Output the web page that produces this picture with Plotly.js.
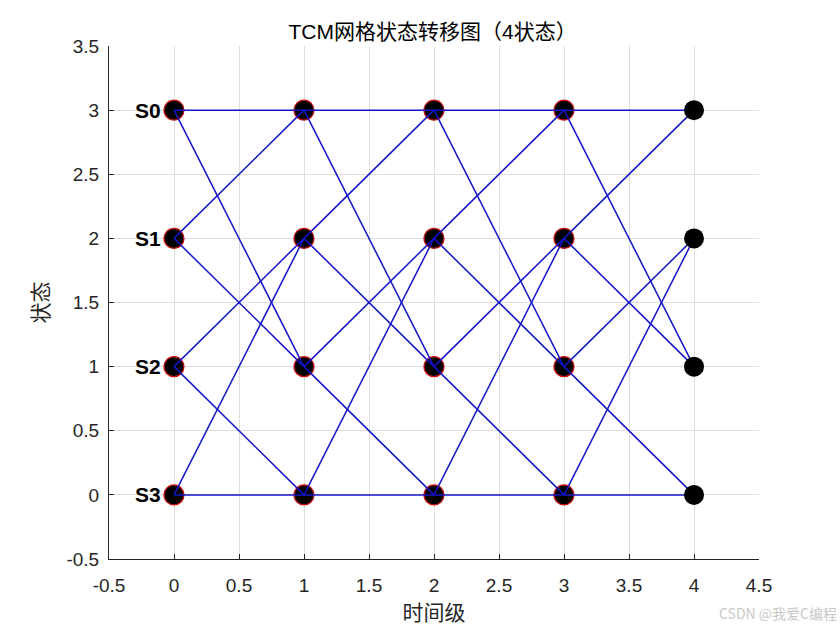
<!DOCTYPE html>
<html>
<head>
<meta charset="utf-8">
<script src="https://cdn.plot.ly/plotly-3.0.1.min.js"></script>
<style>html,body{margin:0;padding:0;background:#fff;}#chart{width:840px;height:630px;}</style>
</head>
<body>
<div id="chart"></div>
<script>
// Trellis data
const timeSteps = [0, 1, 2, 3, 4];
const stateValues = [3, 2, 1, 0];
const stateLabels = ['S0', 'S1', 'S2', 'S3'];
// next states reachable from each state value (key = state value)
const nextStates = {3: [3, 1], 2: [3, 1], 1: [2, 0], 0: [2, 0]};
const xTicks = [-0.5, 0, 0.5, 1, 1.5, 2, 2.5, 3, 3.5, 4, 4.5];
const yTicks = [-0.5, 0, 0.5, 1, 1.5, 2, 2.5, 3, 3.5];

const FONT = 'Liberation Sans, Arial, Noto Sans CJK SC, sans-serif';
const CJK = 'Noto Sans CJK SC, sans-serif';

// markers for t=0..3
const mx = [], my = [];
timeSteps.slice(0, -1).forEach(t => stateValues.forEach(s => { mx.push(t); my.push(s); }));
// final markers
const fx = [], fy = [];
const tLast = timeSteps[timeSteps.length - 1];
stateValues.forEach(s => { fx.push(tLast); fy.push(s); });

// edges
const ex = [], ey = [];
timeSteps.slice(0, -1).forEach(t => {
  stateValues.forEach(s => {
    nextStates[s].forEach(n => { ex.push(t, t + 1, null); ey.push(s, n, null); });
  });
});

const traces = [
  {x: mx, y: my, mode: 'markers', type: 'scatter', hoverinfo: 'skip',
   marker: {size: 20, color: '#000000', line: {color: '#d01010', width: 1.2}}},
  {x: ex, y: ey, mode: 'lines', type: 'scatter', hoverinfo: 'skip',
   line: {color: '#1414c8', width: 1.5}},
  {x: fx, y: fy, mode: 'markers', type: 'scatter', hoverinfo: 'skip',
   marker: {size: 20, color: '#000000', line: {color: '#000000', width: 0}}}
];

const annotations = stateValues.map((s, i) => ({
  x: -0.3, y: s, xref: 'x', yref: 'y', text: '<b>' + stateLabels[i] + '</b>',
  showarrow: false, xanchor: 'left', yanchor: 'middle', xshift: -2,
  font: {family: FONT, size: 21, color: '#000000'}
}));
annotations.push({
  x: 1, y: 0, xref: 'paper', yref: 'paper', xanchor: 'right', yanchor: 'middle',
  xshift: 80, yshift: -54, text: 'CSDN @我爱C编程', showarrow: false,
  font: {family: CJK, size: 14, color: '#c8c8c8'}
});

const axisCommon = {
  showgrid: true, gridcolor: '#dedede', gridwidth: 1,
  zeroline: false, showline: true, linecolor: '#262626', linewidth: 1,
  ticks: 'inside', ticklen: 5, tickcolor: '#262626', mirror: false,
  tickfont: {family: FONT, size: 19, color: '#262626'}
};

const layout = {
  width: 840, height: 630,
  margin: {l: 109, r: 81, t: 46, b: 71},
  paper_bgcolor: '#ffffff', plot_bgcolor: '#ffffff',
  showlegend: false,
  title: {text: 'TCM网格状态转移图（4状态）', x: 0.515, xanchor: 'center', y: 0.95, yanchor: 'middle',
          font: {family: FONT, size: 21, color: '#000000'}},
  xaxis: Object.assign({}, axisCommon, {
    range: [-0.5, 4.5], tickvals: xTicks, ticktext: xTicks.map(String),
    ticklabelstandoff: 9,
    title: {text: '时间级', standoff: 6, font: {family: CJK, size: 21, color: '#262626'}}
  }),
  yaxis: Object.assign({}, axisCommon, {
    range: [-0.5, 3.5], tickvals: yTicks, ticktext: yTicks.map(String),
    ticklabelstandoff: 5,
    title: {text: '状态', standoff: 12, font: {family: CJK, size: 21, color: '#262626'}}
  }),
  annotations: annotations
};

Plotly.newPlot('chart', traces, layout, {staticPlot: true, displayModeBar: false});
</script>
</body>
</html>
